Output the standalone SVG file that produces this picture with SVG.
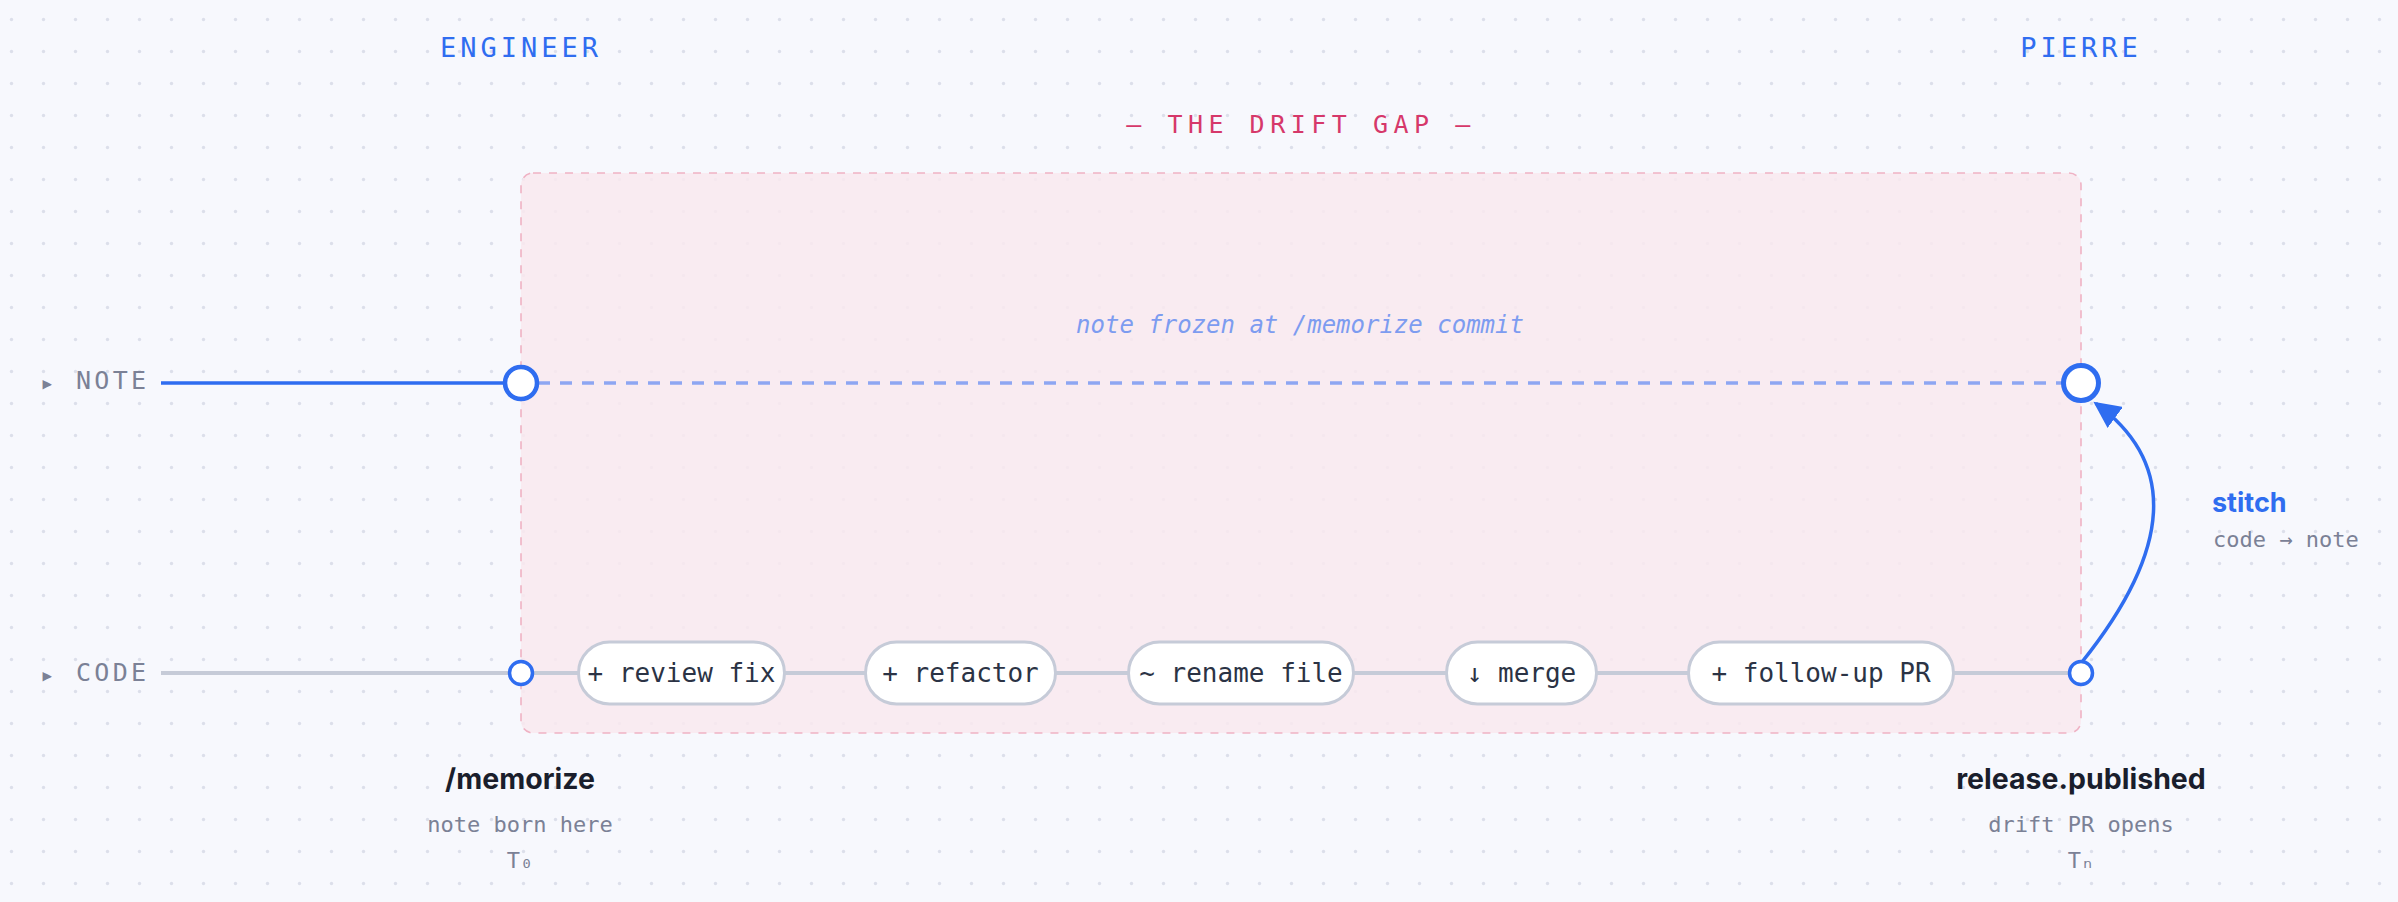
<svg xmlns="http://www.w3.org/2000/svg" width="2398" height="902" viewBox="0 0 2398 902">
  <style>
    .mono { font-family: "DejaVu Sans Mono", "Liberation Mono", monospace; }
    .sans { font-family: Inter, "Liberation Sans", sans-serif; }
    .role { font-size: 27px; fill: #2f6df0; letter-spacing: 4px; }
    .lane { font-size: 25px; fill: #7b8196; letter-spacing: 3.3px; }
    .tri { font-size: 24px; fill: #7b8196; }
    .pill rect { fill: #ffffff; stroke: #c6cbd8; stroke-width: 3; }
    .pill text { font-size: 26px; fill: #2b3345; text-anchor: middle; }
    .title { font-size: 28.5px; font-weight: 700; fill: #1a1e2c; text-anchor: middle; }
    .sub { font-size: 22px; fill: #7b8196; text-anchor: middle; }
  </style>
  <defs>
    <pattern id="dots" width="32" height="32" patternUnits="userSpaceOnUse">
      <circle cx="11.5" cy="19.5" r="1.7" fill="#dcdfea"/>
    </pattern>
    <marker id="arrow" markerUnits="userSpaceOnUse" viewBox="0 0 27 26" markerWidth="27" markerHeight="26" refX="24" refY="13" orient="auto">
      <path d="M0,0 L27,13 L0,26 Z" fill="#2f6df0"/>
    </marker>
  </defs>

  <rect width="2398" height="902" fill="#f7f8fd"/>
  <rect width="2398" height="902" fill="url(#dots)"/>

  <!-- drift gap region -->
  <g id="drift-gap">
    <rect x="521" y="173" width="1560" height="560" rx="12" fill="#f9e9ef" fill-opacity="0.85" stroke="#efb2c4" stroke-width="1.6" stroke-dasharray="8 8"/>
    <text class="mono" x="1301" y="133" text-anchor="middle" font-size="25" letter-spacing="5.5" fill="#d6386a">— THE DRIFT GAP —</text>
    <text class="mono" x="1300" y="333" text-anchor="middle" font-size="24" font-style="italic" fill="#7d9cf0">note frozen at /memorize commit</text>
  </g>

  <!-- column headers -->
  <g id="header-engineer">
    <text class="mono role" x="521" y="57" text-anchor="middle">ENGINEER</text>
  </g>
  <g id="header-pierre">
    <text class="mono role" x="2081" y="57" text-anchor="middle">PIERRE</text>
  </g>

  <!-- lane labels -->
  <g id="lane-note">
    <text class="mono tri" x="40" y="391">▸</text>
    <text class="mono lane" x="76" y="389">NOTE</text>
  </g>
  <g id="lane-code">
    <text class="mono tri" x="40" y="683">▸</text>
    <text class="mono lane" x="76" y="681">CODE</text>
  </g>

  <!-- connectors -->
  <g id="connectors" fill="none">
    <line x1="161" y1="383" x2="510" y2="383" stroke="#2f6df0" stroke-width="3.5"/>
    <line x1="538" y1="383" x2="2062" y2="383" stroke="#8ea6f2" stroke-width="3.5" stroke-dasharray="12 10"/>
    <line x1="161" y1="673" x2="2080" y2="673" stroke="#c6cbd8" stroke-width="4"/>
    <path d="M2082,662 Q2218,492 2095.8,403.4" stroke="#2f6df0" stroke-width="3.5" marker-end="url(#arrow)"/>
  </g>

  <!-- commit pills -->
  <g id="pill-review-fix" class="pill mono">
    <rect x="578.5" y="642" width="206" height="62" rx="31"/>
    <text x="681.5" y="682">+ review fix</text>
  </g>
  <g id="pill-refactor" class="pill mono">
    <rect x="865.5" y="642" width="190" height="62" rx="31"/>
    <text x="960.5" y="682">+ refactor</text>
  </g>
  <g id="pill-rename-file" class="pill mono">
    <rect x="1128.5" y="642" width="225" height="62" rx="31"/>
    <text x="1241" y="682">~ rename file</text>
  </g>
  <g id="pill-merge" class="pill mono">
    <rect x="1446.5" y="642" width="150" height="62" rx="31"/>
    <text x="1521.5" y="682">↓ merge</text>
  </g>
  <g id="pill-follow-up-pr" class="pill mono">
    <rect x="1688.5" y="642" width="265" height="62" rx="31"/>
    <text x="1821" y="682">+ follow-up PR</text>
  </g>

  <!-- milestone nodes -->
  <g id="node-note-t0">
    <circle cx="521" cy="383" r="16" fill="#ffffff" stroke="#2f6df0" stroke-width="4.5"/>
  </g>
  <g id="node-note-tn">
    <circle cx="2081" cy="383" r="17.5" fill="#ffffff" stroke="#2f6df0" stroke-width="5"/>
  </g>
  <g id="node-code-t0">
    <circle cx="521" cy="673" r="11.5" fill="#ffffff" stroke="#2f6df0" stroke-width="3.5"/>
  </g>
  <g id="node-code-tn">
    <circle cx="2081" cy="673" r="11.5" fill="#ffffff" stroke="#2f6df0" stroke-width="3.5"/>
  </g>

  <!-- stitch label -->
  <g id="label-stitch">
    <text class="sans" x="2212" y="512" font-size="27" font-weight="700" fill="#2f6df0">stitch</text>
    <text class="mono" x="2213" y="547" font-size="22" fill="#7b8196">code → note</text>
  </g>

  <!-- milestone captions -->
  <g id="caption-memorize">
    <text class="sans title" x="520" y="789">/memorize</text>
    <text class="mono sub" x="520" y="832">note born here</text>
    <text class="mono sub" x="520" y="868">T₀</text>
  </g>
  <g id="caption-release">
    <text class="sans title" x="2081" y="789">release.published</text>
    <text class="mono sub" x="2081" y="832">drift PR opens</text>
    <text class="mono sub" x="2081" y="868">Tₙ</text>
  </g>
</svg>
